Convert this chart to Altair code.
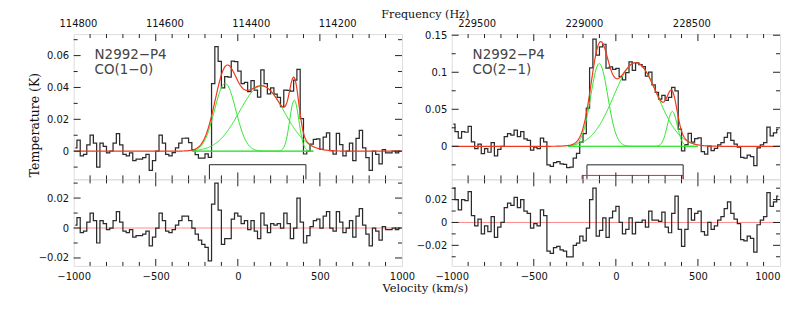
import altair as alt
import numpy as np
import pandas as pd

# ---------------- data ----------------
VEL = list(range(-990, 1000, 20))          # channel centres (km/s)

# residuals (K) of CO(1-0), channel by channel
RES_CO10 = [
    0.002, 0.007, -0.003, -0.002, 0.004, 0.010, 0.005, -0.010, 0.005, 0.003,
    -0.001, 0.000, 0.005, 0.011, 0.004, -0.002, -0.003, -0.001, -0.006, -0.005,
    -0.005, -0.004, -0.002, -0.012, -0.006, 0.000, 0.010, 0.005, -0.002, -0.003,
    -0.001, 0.002, 0.005, 0.008, 0.008, 0.005, 0.000, -0.004, -0.008, -0.011,
    -0.013, -0.022, 0.016, 0.030, 0.012, -0.011, -0.007, -0.007, 0.006, 0.010,
    0.008, 0.003, 0.005, -0.001, 0.005, -0.002, -0.007, 0.010, 0.002, -0.003,
    0.003, 0.002, 0.003, 0.000, 0.010, 0.003, -0.007, 0.000, 0.020, 0.004,
    -0.010, -0.005, 0.001, 0.005, 0.006, 0.000, 0.008, 0.011, 0.000, -0.002,
    0.011, 0.004, -0.003, 0.000, 0.005, -0.006, 0.008, 0.013, 0.002, -0.004,
    -0.012, 0.000, -0.002, -0.008, 0.001, -0.001, -0.001, 0.000, -0.001, 0.000,
]
# residuals (K) of CO(2-1)
RES_CO21 = [
    0.030, 0.020, 0.011, 0.020, 0.019, 0.027, 0.006, -0.003, 0.003, -0.010,
    -0.003, -0.008, 0.005, -0.013, -0.004, 0.000, 0.013, 0.017, 0.015, 0.022,
    0.013, 0.020, 0.010, 0.008, -0.005, -0.001, -0.003, 0.011, 0.006, -0.025,
    -0.027, -0.022, -0.021, -0.024, -0.025, -0.030, -0.030, -0.020, -0.018, -0.012,
    -0.016, -0.005, 0.020, 0.030, -0.012, -0.007, 0.004, -0.013, 0.004, 0.010,
    0.014, 0.000, -0.010, -0.006, 0.004, -0.010, 0.000, 0.000, 0.002, -0.004,
    0.010, 0.002, 0.002, 0.001, 0.009, -0.004, -0.009, 0.008, 0.023, -0.006,
    -0.021, -0.006, 0.012, 0.002, 0.008, 0.010, -0.008, -0.011, 0.000, -0.006,
    -0.003, 0.002, 0.005, 0.012, 0.018, 0.008, 0.003, -0.001, -0.015, -0.016,
    -0.012, -0.014, -0.026, -0.002, 0.002, 0.005, 0.026, 0.014, 0.018, 0.023,
]

# Gaussian fit components: amplitude (K), centre (km/s), sigma (km/s)
CO10_AMP = [0.0425, 0.041, 0.032]
CO10_CEN = [-77, 146, 344]
CO10_SIG = [65, 136, 28]
CO21_AMP = [0.1117, 0.113, 0.047]
CO21_CEN = [-101, 121, 344]
CO21_SIG = [52, 133, 30]

# integration windows: from, to, level (K), colour
BOX_CO10 = [(-173, 415, -0.0085, "#222222")]
BOX_CO21 = [(-176, 410, -0.025, "#222222"), (-206, 410, -0.0393, "#ee2222")]

FREQ_TICKS_CO10 = [114800, 114600, 114400, 114200]
FREQ_TICKS_CO21 = [229500, 229000, 228500]
FREQ_DOM_CO10 = [114810, 114050]
FREQ_DOM_CO21 = [229616, 228087]

VEL_LABELS = [-1000, -500, 0, 500, 1000]
VEL_MAJOR = [-500, 0, 500]
VEL_MINOR = [-900, -800, -700, -600, -400, -300, -200, -100,
             100, 200, 300, 400, 600, 700, 800, 900]

# ---------------- style ----------------
W = 330
H_TOP = 146
H_BOT = 87
TICK_FONT = "DejaVu Sans"
SERIF = "DejaVu Serif"
RED = "#f2381c"
GREEN = "#2ee62e"
INK = "#2b2b2b"


def gauss(v, a, c, s):
    return a * np.exp(-0.5 * ((v - c) / s) ** 2)


def model(v, amps, cens, sigs):
    return sum(gauss(v, a, c, s) for a, c, s in zip(amps, cens, sigs))


def vel_axis(last_right=False, **extra):
    kw = dict(values=VEL_LABELS, format="d", tickSize=0, domain=False,
              grid=False, labelPadding=6, labelFont=TICK_FONT,
              labelFontSize=10, labelColor="#111", labelFlush=False)
    if last_right:
        kw["labelAlign"] = alt.condition("datum.value >= 1000", alt.value("right"),
                                         alt.value("center"))
    kw.update(extra)
    if "title" not in kw:
        kw["title"] = ""
    return alt.Axis(**kw)


def make_xenc(axis):
    sc = alt.Scale(domain=[-1000, 1000], nice=False, zero=False)

    def f(field):
        return alt.X(field, type="quantitative", scale=sc, axis=axis)
    return f


def make_yenc(ydom, yvals, title_kw):
    sc = alt.Scale(domain=ydom, nice=False, zero=False)
    ax = alt.Axis(values=yvals, format="~g", tickSize=0, domain=False, grid=False,
                  labelPadding=5, labelFont=TICK_FONT, labelFontSize=10,
                  labelColor="#111", labelFlush=False, **title_kw)

    def f(field):
        return alt.Y(field, type="quantitative", scale=sc, axis=ax)
    return f


def tick_layers(H, yenc, ymajor, yminor, X):
    layers = []
    tx_major = pd.DataFrame({"v": VEL_MAJOR})
    tx_minor = pd.DataFrame({"v": VEL_MINOR})
    for df, L in ((tx_major, 7), (tx_minor, 4)):
        layers.append(alt.Chart(df).mark_rule(color="#222", strokeWidth=1).encode(
            x=X("v"), y=alt.value(H), y2=alt.value(H - L)))
        layers.append(alt.Chart(df).mark_rule(color="#222", strokeWidth=1).encode(
            x=X("v"), y=alt.value(0), y2=alt.value(L)))
    ty_major = pd.DataFrame({"t": ymajor})
    ty_minor = pd.DataFrame({"t": yminor})
    for df, L in ((ty_major, 7), (ty_minor, 4)):
        layers.append(alt.Chart(df).mark_rule(color="#222", strokeWidth=1).encode(
            y=yenc("t"), x=alt.value(0), x2=alt.value(L)))
        layers.append(alt.Chart(df).mark_rule(color="#222", strokeWidth=1).encode(
            y=yenc("t"), x=alt.value(W), x2=alt.value(W - L)))
    return layers


def top_panel(res, amps, cens, sigs, ydom, yvals, ymajor, yminor, grange, boxes,
              line2, fdom, fticks, first):
    v = np.array(VEL, dtype=float)
    spec = pd.DataFrame({"v": VEL, "t": model(v, amps, cens, sigs) + np.array(res)})
    vg = np.arange(-1000, 1001, 4.0)
    red = pd.DataFrame({"v": vg, "t": model(vg, amps, cens, sigs)})
    vgg = np.arange(grange[0], grange[1] + 0.1, 4.0)
    green = pd.concat([pd.DataFrame({"v": vgg, "t": gauss(vgg, a, c, s), "k": i})
                       for i, (a, c, s) in enumerate(zip(amps, cens, sigs))])
    gbase = pd.DataFrame({"v": [grange[0]], "v2": [grange[1]], "t": [0.0]})

    if first:
        title_kw = dict(title="Temperature (K)", titleFont=SERIF, titleFontSize=12.5,
                        titleFontWeight="normal", titleColor="#111", titleAngle=270,
                        titleX=-35, titleY=91, titleAlign="center",
                        titleBaseline="alphabetic")
    else:
        title_kw = dict(title="")
    yenc = make_yenc(ydom, yvals, title_kw)
    sc = alt.Scale(domain=[-1000, 1000], nice=False, zero=False)
    X = lambda f: alt.X(f, type="quantitative", scale=sc, axis=None)

    layers = []
    layers.append(alt.Chart(spec).mark_line(interpolate="step", color=INK,
                                            strokeWidth=1.25, clip=True).encode(
        x=X("v"), y=yenc("t")))
    layers.append(alt.Chart(gbase).mark_rule(color=GREEN, strokeWidth=1).encode(
        x=X("v"), x2="v2:Q", y=yenc("t")))
    layers.append(alt.Chart(green).mark_line(color=GREEN, strokeWidth=1, clip=True).encode(
        x=X("v"), y=yenc("t"), detail="k:N"))
    layers.append(alt.Chart(red).mark_line(color=RED, strokeWidth=1.2, clip=True).encode(
        x=X("v"), y=yenc("t")))
    bx = pd.DataFrame({"a": [b[0] for b in boxes], "b": [b[1] for b in boxes],
                       "lev": [b[2] for b in boxes], "bot": [ydom[0]] * len(boxes)})
    for i in range(len(boxes)):
        d = bx.iloc[[i]]
        col = boxes[i][3]
        layers.append(alt.Chart(d).mark_rule(color=col, strokeWidth=1).encode(
            x=X("a"), x2="b:Q", y=yenc("lev")))
        layers.append(alt.Chart(d).mark_rule(color=col, strokeWidth=1).encode(
            x=X("a"), y=yenc("lev"), y2="bot:Q"))
        layers.append(alt.Chart(d).mark_rule(color=col, strokeWidth=1).encode(
            x=X("b"), y=yenc("lev"), y2="bot:Q"))
    layers += tick_layers(H_TOP, yenc, ymajor, yminor, X)
    lab = pd.DataFrame({"s": ["N2992\u2212P4", line2]})
    layers.append(alt.Chart(lab.iloc[[0]]).mark_text(
        align="left", baseline="alphabetic", font="DejaVu Sans", fontSize=13.5,
        color="#444444").encode(text="s:N", x=alt.value(21), y=alt.value(25.5)))
    layers.append(alt.Chart(lab.iloc[[1]]).mark_text(
        align="left", baseline="alphabetic", font="DejaVu Sans", fontSize=13.5,
        color="#444444").encode(text="s:N", x=alt.value(21), y=alt.value(40.5)))
    if first:
        # invisible anchor fixing the page position of the whole figure
        layers.append(alt.Chart(pd.DataFrame({"a": [0]})).mark_rule(
            opacity=0, strokeWidth=1).encode(
            x=alt.value(-66), y=alt.value(-30), y2=alt.value(-29)))
    vel = alt.layer(*layers)

    fax_kw = dict(orient="top", values=fticks, format="d", tickSize=0, domain=False,
                  grid=False, labelPadding=6, labelFont=TICK_FONT, labelFontSize=10,
                  labelColor="#111", labelFlush=False)
    if first:
        fax_kw.update(title="Frequency (Hz)", titleFont=SERIF, titleFontSize=11.2,
                      titleFontWeight="normal", titleColor="#111", titleX=353,
                      titleY=-16.5, titleAlign="center", titleBaseline="alphabetic")
    else:
        fax_kw.update(title="")
    fl = alt.Chart(pd.DataFrame({"f": fticks})).mark_rule(opacity=0).encode(
        x=alt.X("f:Q", scale=alt.Scale(domain=fdom, nice=False, zero=False),
                axis=alt.Axis(**fax_kw)))
    return alt.layer(vel, fl).resolve_scale(x="independent").properties(
        width=W, height=H_TOP)


def bottom_panel(res, ydom, yvals, ymajor, yminor, first):
    df = pd.DataFrame({"v": VEL, "t": res})
    yenc = make_yenc(ydom, yvals, dict(title=""))
    if first:
        ax = vel_axis(title="Velocity (km/s)", titleFont=SERIF, titleFontSize=11.5,
                      titleFontWeight="normal", titleColor="#111", titleX=353,
                      titleY=26, titleAlign="center", titleBaseline="alphabetic")
    else:
        ax = vel_axis(last_right=True)
    X = make_xenc(ax)
    zero = pd.DataFrame({"t": [0.0]})
    layers = [
        alt.Chart(zero).mark_rule(color="#ff8a8a", strokeWidth=1).encode(y=yenc("t")),
        alt.Chart(df).mark_line(interpolate="step", color=INK, strokeWidth=1.25,
                                clip=True).encode(x=X("v"), y=yenc("t")),
    ]
    layers += tick_layers(H_BOT, yenc, ymajor, yminor, X)
    return alt.layer(*layers).properties(width=W, height=H_BOT)


tl = top_panel(RES_CO10, CO10_AMP, CO10_CEN, CO10_SIG, [-0.0177, 0.0735],
               [0, 0.02, 0.04, 0.06], [0, 0.02, 0.04, 0.06], [-0.01, 0.01, 0.03, 0.05, 0.07],
               (-280, 460), BOX_CO10, "CO(1\u22120)", FREQ_DOM_CO10, FREQ_TICKS_CO10, True)
tr = top_panel(RES_CO21, CO21_AMP, CO21_CEN, CO21_SIG, [-0.0446, 0.1515],
               [0, 0.05, 0.1, 0.15], [0, 0.05, 0.1, 0.15], [-0.025, 0.025, 0.075, 0.125],
               (-290, 500), BOX_CO21, "CO(2\u22121)", FREQ_DOM_CO21, FREQ_TICKS_CO21, False)
bl = bottom_panel(RES_CO10, [-0.0253, 0.0325], [-0.02, 0, 0.02], [-0.02, 0, 0.02],
                  [-0.01, 0.01, 0.03], True)
br = bottom_panel(RES_CO21, [-0.038, 0.0377], [-0.02, 0, 0.02], [-0.02, 0, 0.02],
                  [-0.03, -0.01, 0.01, 0.03], False)

chart = alt.concat(
    tl, tr, bl, br, columns=2, spacing={"row": 0, "column": 50}, bounds="flush",
).properties(padding={"left": -1, "top": -5.5, "right": 0, "bottom": 0}
).configure_view(stroke="#111", strokeWidth=1.2).configure(background="white")

chart.save("out.html", embed_options={"renderer": "svg", "actions": False})
